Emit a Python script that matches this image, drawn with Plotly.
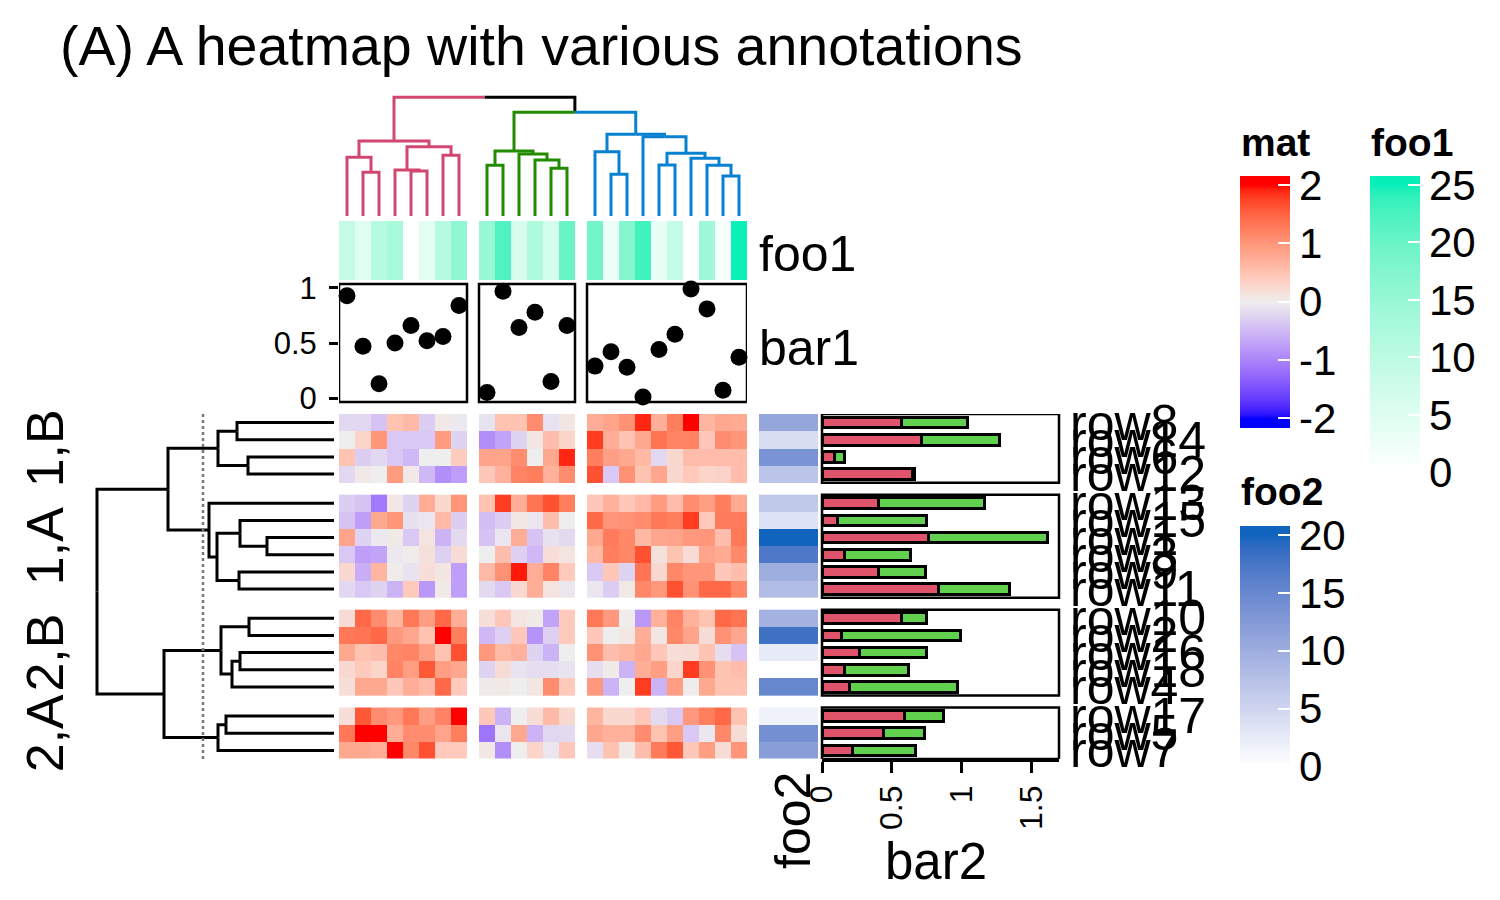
import plotly.graph_objects as go

W, H = 1500, 900
FONT = "Liberation Sans, Arial, sans-serif"

# ---------------- data ----------------
TITLE = "(A) A heatmap with various annotations"
row_slice_titles = ["1,B", "1,A", "2,B", "2,A"]
row_slice_sizes = [4, 6, 5, 3]
col_slice_sizes = [8, 6, 10]
row_names = ["row8", "row14", "row6", "row12",
             "row13", "row15", "row1", "row3", "row9", "row11",
             "row10", "row2", "row16", "row18", "row4",
             "row17", "row5", "row7"]

mat = [
    [-0.2, -0.2, -0.4, 0.5, 0.6, -0.3, 0.05, -0.05, -0.1, 0.5, 0.5, 1.1, -0.1, 0.1, 0.75, 0.85, 1.05, 1.9, 0.72, 1.25, 2.3, 0.65, 0.8, 0.78],
    [0, 0.3, 1.0, -0.35, -0.35, -0.35, 0.95, -0.25, -0.9, -0.7, -0.25, 0.1, 0.55, 0.3, 1.8, 0.75, 0.5, 0.8, 1.35, 1.2, 1.2, 0.45, 1.1, 1.0],
    [0.5, -0.3, -0.2, -0.35, -0.5, 0, 0, 0.4, 0.85, 0.85, 1.1, 0, 0.8, 1.9, 1.25, 0.9, 0.8, 0.62, -0.2, 0.25, 0.58, 0.58, 0.58, 0.58],
    [-0.2, 0.05, 0, 0.95, 0.05, -0.5, -0.9, -0.75, 0.45, 0.7, 1.2, 1.25, 0.7, 1.1, 1.65, -0.35, 1.05, 0.5, 0.82, 0.25, 0.42, 0.3, 0.32, 0.55],
    [-0.3, -0.4, -1.1, 0.08, -0.25, 0.75, 0.25, 1.0, 0.5, 1.8, 0.75, 1.35, 1.65, 1.25, 0.45, 0.7, 0.45, 0.62, 0.95, 0.58, 1.1, 0.92, 1.25, 0.78],
    [-0.4, -0.75, 0.8, 1.0, -0.12, -0.08, 0.6, -0.3, -0.45, -0.3, 0.08, -0.08, 0.55, 0, 1.45, 1.0, 1.05, 1.1, 1.3, 1.25, 1.8, 0.42, 1.28, 1.28],
    [0.85, -0.25, -0.05, 0.06, -0.35, 0.12, -0.55, -0.18, -0.4, -0.08, 0.75, -0.4, -0.12, -0.18, 0.8, 1.28, 1.15, 0.62, 0.82, 0.85, 0.98, 1.0, 0.56, 1.3],
    [-0.35, -0.75, -0.7, -0.05, 0.02, 0.15, -0.28, 0.2, 0, 0.55, -0.28, -0.5, 0.18, 0.12, 0.62, 1.25, 1.15, 1.65, 0.15, 0.5, 0.22, 0.85, 0.78, 1.15],
    [0.25, -0.6, 0.65, 0.02, -0.1, 0.18, 0.1, -0.75, 0.6, 1.05, 1.95, 0.75, 1.2, 0.42, -0.35, 0.45, -0.25, 1.35, 0.25, 1.15, 1.0, 1.0, 0.45, 0.55],
    [-0.2, -0.35, -0.25, -0.55, 0.42, -0.8, 0.06, -0.75, -0.18, -0.35, 0.25, 0.75, 0.12, -0.06, -0.08, -0.3, 0.06, 1.15, 0.98, 1.65, 1.05, 1.45, 1.45, 1.15],
    [0.2, 1.45, 1.1, 0.65, 1.3, 0.92, 1.45, 0.75, 0.18, 0.45, 0.1, 0.04, -0.7, 0.42, 1.3, 0.98, 0.02, -0.8, 0.7, 1.2, 0.7, 0.5, 1.45, 1.35],
    [1.3, 1.35, 1.45, 0.98, 0.82, 0.5, 2.3, 1.25, -0.5, -0.28, 0.45, -0.85, -0.28, 0.42, 0.45, 0, 0.08, 0.75, 0.1, 1.15, 0.85, 0.2, 1.05, 0.82],
    [0.8, 0.5, 0.55, 1.15, 1.2, 0.92, 0.5, 1.65, 0.98, 0.6, 0.7, -0.25, -0.55, 0, 1.05, 0.55, 0.65, 0.8, 0.45, 0.18, 0.22, 0.5, -0.15, -0.4],
    [0.25, 0.42, 0.3, 1.2, 0.92, 1.6, 0.92, 0.82, -0.25, 0.2, -0.1, -0.15, -0.15, -0.1, -0.15, 0.04, -0.55, 0.75, 0.92, 0.3, 1.8, 1.05, 0.5, 0.55],
    [0.18, 0.8, 0.8, 0.45, 0.75, 0.6, 1.45, 0.42, 0.03, 0.06, 0, 0.1, 1.1, 0.42, 0.98, -0.55, 0, 1.8, -0.55, 0.92, 0.02, 0.8, 0.5, 0.5],
    [0.18, 1.6, 1.1, 0.98, 1.3, 0.92, 1.2, 2.3, 0.45, -0.55, 0, 0.2, 0.6, 0.25, 0.65, 0.25, 0.25, 0.45, -0.18, -0.35, 0.98, 1.25, 1.45, 0.5],
    [1.3, 2.4, 2.1, 0.75, 1.1, 1.1, 0.85, 1.25, -1.15, -0.08, 0.8, -0.55, -0.22, -0.18, 0.82, 0.7, 0.7, 1.1, 0.5, 0.92, -0.35, -0.06, 1.15, 0.2],
    [0.8, 0.8, 0.75, 2.2, 1.15, 1.65, 0.42, 0.42, 0.08, -0.9, 0, 0.3, -0.08, 0.45, -0.15, 0.5, 0.06, 0.55, 1.28, 1.6, 0.45, 0.92, 0.2, 1.0],
]

foo1 = [9, 5, 11, 13, 0.5, 4, 11, 16,
        15, 22, 6, 12, 6.5, 20,
        19, 3, 17, 23, 3.5, 9, 0, 14, 1.5, 25]
bar1 = [0.93, 0.47, 0.13, 0.50, 0.66, 0.52, 0.56, 0.84,
        0.05, 0.97, 0.64, 0.78, 0.15, 0.66,
        0.29, 0.42, 0.28, 0.01, 0.44, 0.58, 0.99, 0.81, 0.07, 0.37]
foo2 = [11, 4, 13.5, 7,
        6.5, 3.5, 20, 17, 10, 8,
        9.5, 18, 2.5, 0, 15,
        1.5, 14, 12]
bar2_red = [0.57, 0.71, 0.09, 0.65,
            0.40, 0.11, 0.76, 0.16, 0.40, 0.83,
            0.57, 0.14, 0.27, 0.16, 0.195,
            0.59, 0.44, 0.22]
bar2_green = [0.47, 0.56, 0.07, 0.01,
              0.76, 0.64, 0.85, 0.47, 0.34, 0.51,
              0.18, 0.85, 0.48, 0.46, 0.77,
              0.28, 0.29, 0.45]

# hclust-style merges: negative = leaf (display order), positive = earlier merge (1-based)
col_merge = [(-2, -3), (-1, 1), (-5, -6), (-4, 3), (-7, -8), (4, 5), (2, 6),
             (-9, -10), (-13, -14), (-12, 9), (-11, 10), (8, 11),
             (-16, -17), (-15, 13), (-19, -20), (-23, -24), (-22, 16), (-21, 17),
             (15, 18), (-18, 19), (14, 20), (12, 21), (7, 22)]
col_height = [4.37, 5.87, 4.5, 4.6, 6.07, 6.93, 7.5,
              5.07, 4.77, 5.6, 6.2, 6.5,
              4.17, 6.43, 5.1, 4.0, 5.07, 5.77,
              6.27, 7.93, 8.17, 10.37, 11.87]
row_merge = [(-1, -2), (-3, -4), (1, 2), (-7, -8), (-6, 4), (-9, -10), (5, 6), (-5, 7), (3, 8),
             (-11, -12), (-13, -14), (11, -15), (10, 12), (-16, -17), (14, -18), (13, 15), (9, 16)]
row_height = [9.7, 8.6, 11.6, 6.7, 9.4, 9.5, 11.7, 12.5, 16.6,
              8.5, 9.4, 10.2, 11.3, 10.8, 11.6, 17.0, 23.7]
cut_height = 13.1

mat_breaks, mat_colors = [-2, 0, 2], ["#0000FF", "#EEEEEE", "#FF0000"]
foo1_breaks, foo1_colors = [0, 25], ["#FFFFFF", "#05F0B9"]
foo2_breaks, foo2_colors = [0, 20], ["#FFFFFF", "#1064BE"]
bar2_colors = ["#DF536B", "#61D04F"]
branch_colors = ["#D1476F", "#238B00", "#0882D0"]
mat_ticks = [-2, -1, 0, 1, 2]
foo1_ticks = [0, 5, 10, 15, 20, 25]
foo2_ticks = [0, 5, 10, 15, 20]


# ---------------- helpers ----------------
def px_x(p):
    return p / W


def px_y(p):
    return 1 - p / H


def hex2rgb(h):
    h = h.lstrip("#")
    return [int(h[i:i + 2], 16) / 255 for i in (0, 2, 4)]


def lin(c):
    return c / 12.92 if c <= 0.04045 else ((c + 0.055) / 1.055) ** 2.4


def delin(c):
    return 12.92 * c if c <= 0.0031308 else 1.055 * c ** (1 / 2.4) - 0.055


M = [[0.4124564, 0.3575761, 0.1804375], [0.2126729, 0.7151522, 0.0721750], [0.0193339, 0.1191920, 0.9503041]]
Minv = [[3.2404542, -1.5371385, -0.4985314], [-0.9692660, 1.8760108, 0.0415560], [0.0556434, -0.2040259, 1.0572252]]
WN = (0.95047, 1.0, 1.08883)


def fl(t):
    return t ** (1 / 3) if t > (6 / 29) ** 3 else t / (3 * (6 / 29) ** 2) + 4 / 29


def finv(t):
    return t ** 3 if t > 6 / 29 else 3 * (6 / 29) ** 2 * (t - 4 / 29)


def to_lab(hexc):
    rgb = [lin(c) for c in hex2rgb(hexc)]
    X, Y, Z = [sum(M[i][j] * rgb[j] for j in range(3)) for i in range(3)]
    fx, fy, fz = fl(X / WN[0]), fl(Y / WN[1]), fl(Z / WN[2])
    return (116 * fy - 16, 500 * (fx - fy), 200 * (fy - fz))


def from_lab(L, a, b):
    fy = (L + 16) / 116
    fx = fy + a / 500
    fz = fy - b / 200
    xyz = (WN[0] * finv(fx), WN[1] * finv(fy), WN[2] * finv(fz))
    rgb = [sum(Minv[i][j] * xyz[j] for j in range(3)) for i in range(3)]
    rgb = [min(1, max(0, delin(max(0, c)))) for c in rgb]
    return "rgb(%d,%d,%d)" % tuple(round(c * 255) for c in rgb)


def ramp(breaks, colors, zmin, zmax, n=80):
    labs = [to_lab(c) for c in colors]
    scale = []
    for k in range(n + 1):
        v = zmin + (zmax - zmin) * k / n
        vc = min(max(v, breaks[0]), breaks[-1])
        s = 0
        while s < len(breaks) - 2 and vc > breaks[s + 1]:
            s += 1
        t = (vc - breaks[s]) / (breaks[s + 1] - breaks[s])
        L = [labs[s][i] + (labs[s + 1][i] - labs[s][i]) * t for i in range(3)]
        scale.append([k / n, from_lab(*L)])
    return scale


def positions(sizes, gap):
    pos, slices, p = [], [], 0.0
    for n in sizes:
        idx = list(range(len(pos), len(pos) + n))
        slices.append(idx)
        pos += [p + i for i in range(n)]
        p += n + gap
    return pos, slices


def dendro(merge, heights, leaf_pos, leaf_group):
    pos, hh, grp, segs = {}, {}, {}, []

    def info(c):
        if c < 0:
            i = -c - 1
            return leaf_pos[i], 0.0, leaf_group[i]
        return pos[c], hh[c], grp[c]

    for k, (a, b) in enumerate(merge, start=1):
        h = heights[k - 1]
        ia, ib = info(a), info(b)
        pos[k] = (ia[0] + ib[0]) / 2
        hh[k] = h
        grp[k] = ia[2] if ia[2] == ib[2] else None
        for (p, hc, g) in (ia, ib):
            segs.append((g, [(p, hc), (p, h), (pos[k], h)]))
    return segs


col_pos, col_slices = positions(col_slice_sizes, 0.75)
row_pos, row_slices = positions(row_slice_sizes, 0.7)

fig = go.Figure()
shapes = []
tickfont = dict(family=FONT, size=42, color="black")
DLW = 3  # dendrogram line width


def colorbar(x_left, top, zr, px_per_unit, ticks):
    length = (zr[1] - zr[0]) * px_per_unit
    return dict(x=px_x(x_left), xanchor="left", y=px_y(top), yanchor="top",
                len=length, lenmode="pixels", thickness=50, outlinewidth=0,
                ticks="inside", ticklen=12, tickwidth=2, tickcolor="white",
                tickvals=ticks, ticktext=[str(t) for t in ticks],
                tickfont=tickfont, xpad=0, ypad=0)


# ---------------- main heatmap ----------------
MZ = (-2.16, 2.16)
mat_scale = ramp(mat_breaks, mat_colors, *MZ)
mat_cb = colorbar(1240, 175.7, MZ, 58.25, mat_ticks)
first = True
for rs in row_slices:
    for cs in col_slices:
        fig.add_trace(go.Heatmap(
            z=[[mat[r][c] for c in cs] for r in rs],
            x=[col_pos[c] for c in cs], y=[row_pos[r] for r in rs],
            colorscale=mat_scale, zmin=MZ[0], zmax=MZ[1], hoverinfo="skip",
            showscale=first, colorbar=mat_cb, xaxis="x", yaxis="y"))
        first = False

# ---------------- column dendrogram ----------------
col_groups = []
for gi, cs in enumerate(col_slices):
    col_groups += [gi] * len(cs)
segs = dendro(col_merge, col_height, col_pos, col_groups)
for g in [None, 0, 1, 2]:
    xs, ys = [], []
    for sg, pts in segs:
        if sg == g:
            xs += [p for p, h in pts] + [None]
            ys += [h for p, h in pts] + [None]
    fig.add_trace(go.Scatter(x=xs, y=ys, mode="lines", hoverinfo="skip",
                             line=dict(color="black" if g is None else branch_colors[g], width=DLW),
                             xaxis="x2", yaxis="y2", showlegend=False))

# ---------------- foo1 annotation ----------------
FZ1 = (-0.8, 25.8)
foo1_scale = ramp(foo1_breaks, foo1_colors, *FZ1)
foo1_cb = colorbar(1370, 175.7, FZ1, 11.5, foo1_ticks)
for k, cs in enumerate(col_slices):
    fig.add_trace(go.Heatmap(
        z=[[foo1[c] for c in cs]], x=[col_pos[c] for c in cs], y=[0],
        colorscale=foo1_scale, zmin=FZ1[0], zmax=FZ1[1], hoverinfo="skip",
        showscale=(k == 0), colorbar=foo1_cb, xaxis="x3", yaxis="y3"))

# ---------------- bar1 points ----------------
fig.add_trace(go.Scatter(x=col_pos, y=bar1, mode="markers", hoverinfo="skip",
                         marker=dict(color="black", size=17), cliponaxis=False,
                         xaxis="x4", yaxis="y4", showlegend=False))

# ---------------- row dendrogram ----------------
rsegs = dendro(row_merge, row_height, row_pos, [None] * len(row_pos))
xs, ys = [], []
for sg, pts in rsegs:
    xs += [h for p, h in pts] + [None]
    ys += [p for p, h in pts] + [None]
fig.add_trace(go.Scatter(x=xs, y=ys, mode="lines", hoverinfo="skip",
                         line=dict(color="black", width=DLW), xaxis="x5", yaxis="y5", showlegend=False))
fig.add_trace(go.Scatter(x=[cut_height, cut_height], y=[row_pos[0] - 0.5, row_pos[-1] + 0.5],
                         mode="lines", hoverinfo="skip",
                         line=dict(color="#777777", width=2.5, dash="dot"),
                         xaxis="x5", yaxis="y5", showlegend=False))

# ---------------- foo2 annotation ----------------
FZ2 = (-0.8, 20.8)
foo2_scale = ramp(foo2_breaks, foo2_colors, *FZ2)
foo2_cb = colorbar(1240, 525.7, FZ2, 11.58, foo2_ticks)
for k, rs in enumerate(row_slices):
    fig.add_trace(go.Heatmap(
        z=[[foo2[r]] for r in rs], x=[0], y=[row_pos[r] for r in rs],
        colorscale=foo2_scale, zmin=FZ2[0], zmax=FZ2[1], hoverinfo="skip",
        showscale=(k == 0), colorbar=foo2_cb, xaxis="x6", yaxis="y6"))

# ---------------- bar2 stacked bars ----------------
for vals, colr in ((bar2_red, bar2_colors[0]), (bar2_green, bar2_colors[1])):
    fig.add_trace(go.Bar(x=vals, y=row_pos, orientation="h", width=0.62,
                         marker=dict(color=colr, line=dict(color="black", width=3)),
                         hoverinfo="skip", showlegend=False, xaxis="x7", yaxis="y7"))

# ---------------- shapes (annotation boxes) ----------------
for cs in col_slices:
    shapes.append(dict(type="rect", xref="x4", yref="y4 domain",
                       x0=col_pos[cs[0]] - 0.5, x1=col_pos[cs[-1]] + 0.5, y0=0, y1=1,
                       line=dict(color="black", width=2.5)))
for rs in row_slices:
    shapes.append(dict(type="rect", xref="x7 domain", yref="y7",
                       x0=0, x1=1, y0=row_pos[rs[0]] - 0.5, y1=row_pos[rs[-1]] + 0.5,
                       line=dict(color="black", width=2.5)))


# ---------------- annotations ----------------
def txt(text, x, y, size, xanchor="left", yanchor="middle", xref="paper", yref="paper",
        angle=0, bold=False):
    return dict(text=("<b>%s</b>" % text) if bold else text, x=x, y=y, xref=xref, yref=yref,
                xanchor=xanchor, yanchor=yanchor, showarrow=False, textangle=angle,
                font=dict(family=FONT, size=size, color="black"))


ann = [txt(TITLE, px_x(58), px_y(46), 55.5)]
ann.append(txt("foo1", px_x(757), px_y(254), 50))
ann.append(txt("bar1", px_x(757), px_y(348), 50))
ann.append(txt("foo2", px_x(793), px_y(820), 50, xanchor="center", angle=-90))
ann.append(txt("bar2", px_x(936), px_y(861), 51, xanchor="center"))
for name, yp in zip(row_names, row_pos):
    ann.append(txt(name, px_x(1068), yp, 50, yref="y"))
for title, rs in zip(row_slice_titles, row_slices):
    yc = (row_pos[rs[0]] + row_pos[rs[-1]]) / 2
    ann.append(txt(title, px_x(45), yc, 52, xanchor="center", yref="y", angle=-90))
ann.append(txt("mat", px_x(1239), px_y(142), 39, bold=True))
ann.append(txt("foo1", px_x(1369), px_y(142), 39, bold=True))
ann.append(txt("foo2", px_x(1239), px_y(492), 39, bold=True))


# ---------------- axes ----------------
def hidden(domain, rng, anchor):
    return dict(domain=domain, range=rng, visible=False, anchor=anchor, fixedrange=True,
                showgrid=False, zeroline=False)


xr = [col_pos[0] - 0.5, col_pos[-1] + 0.5]
yr = [row_pos[-1] + 0.5, row_pos[0] - 0.5]
hm_x = [px_x(339), px_x(747)]
hm_y = [px_y(759), px_y(414)]

layout = dict(
    width=W, height=H, margin=dict(l=0, r=0, t=0, b=0, pad=0, autoexpand=False),
    paper_bgcolor="white", plot_bgcolor="rgba(0,0,0,0)",
    showlegend=False, barmode="stack", font=dict(family=FONT, color="black"),
    xaxis=hidden(hm_x, xr, "y"), yaxis=hidden(hm_y, yr, "x"),
    xaxis2=hidden(hm_x, xr, "y2"), yaxis2=hidden([px_y(216), px_y(95)], [0, 12.1], "x2"),
    xaxis3=hidden(hm_x, xr, "y3"), yaxis3=hidden([px_y(280), px_y(221)], [-0.5, 0.5], "x3"),
    xaxis4=hidden(hm_x, xr, "y4"),
    yaxis4=dict(domain=[px_y(402), px_y(284)], range=[-0.036, 1.036], anchor="x4",
                showgrid=False, zeroline=False, showline=False, ticks="outside", ticklen=9,
                tickwidth=2.5, tickcolor="black", tickvals=[0, 0.5, 1], ticktext=["0", "0.5", "1"],
                ticklabelstandoff=6,
                tickfont=dict(family=FONT, size=31, color="black"), fixedrange=True),
    xaxis5=hidden([px_x(90), px_x(334)], [24.4, 0], "y5"), yaxis5=hidden(hm_y, yr, "x5"),
    xaxis6=hidden([px_x(759), px_x(818)], [-0.5, 0.5], "y6"), yaxis6=hidden(hm_y, yr, "x6"),
    xaxis7=dict(domain=[px_x(822), px_x(1059)], range=[0, 1.693], anchor="y7",
                showgrid=False, zeroline=False, showline=True, linecolor="black", linewidth=2.5,
                ticks="outside", ticklen=11, tickwidth=2.5, tickcolor="black",
                tickvals=[0, 0.5, 1, 1.5], ticktext=["0", "0.5", "1", "1.5"], tickangle=-90,
                tickfont=dict(family=FONT, size=32, color="black"), fixedrange=True),
    yaxis7=hidden(hm_y, yr, "x7"),
    shapes=shapes, annotations=ann,
)
fig.update_layout(**layout)
fig.write_html("out.html", config={"displayModeBar": False},
               post_script="document.body.style.margin='0px';")
